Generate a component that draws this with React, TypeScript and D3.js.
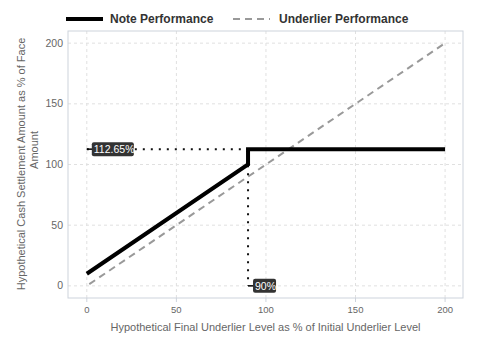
import React from "react";
import * as d3 from "d3";

const noteX = [0, 90, 90, 200];
const noteY = [10, 100, 112.65, 112.65];
const underX = [0, 200];
const underY = [0, 200];
const xTicks = [0, 50, 100, 150, 200];
const yTicks = [0, 50, 100, 150, 200];
const capLevel = 112.65;
const barrier = 90;

export default function App() {
  const W = 480, H = 360;
  const left = 68, right = 463, top = 31, bottom = 298;
  const x = d3.scaleLinear().domain([-10.5, 210]).range([left, right]);
  const y = d3.scaleLinear().domain([-10, 210]).range([bottom, top]);
  const line = d3.line<[number, number]>().x(d => x(d[0])).y(d => y(d[1]));
  const notePts: [number, number][] = noteX.map((v, i) => [v, noteY[i]]);
  const underPts: [number, number][] = underX.map((v, i) => [v, underY[i]]);
  const font = "'Liberation Sans', Arial, sans-serif";
  return (
    <svg width={W} height={H} style={{ position: "absolute", left: 0, top: 0, fontFamily: font }}>
      <rect width={W} height={H} fill="#fff" />
      {xTicks.map(t => (
        <line key={"gx" + t} x1={x(t)} x2={x(t)} y1={top} y2={bottom} stroke="#e0e0e0" strokeDasharray="3,3" />
      ))}
      {yTicks.map(t => (
        <line key={"gy" + t} x1={left} x2={right} y1={y(t)} y2={y(t)} stroke="#e0e0e0" strokeDasharray="3,3" />
      ))}
      <rect x={left} y={top} width={right - left} height={bottom - top} fill="none" stroke="#cdd3dc" strokeWidth={1} />
      {xTicks.map(t => (
        <g key={"tx" + t}>
          <line x1={x(t)} x2={x(t)} y1={bottom} y2={bottom + 4} stroke="#cdd3dc" />
          <text x={x(t)} y={bottom + 15} textAnchor="middle" fontSize={9.5} fill="#666">{t}</text>
        </g>
      ))}
      {yTicks.map(t => (
        <text key={"ty" + t} x={left - 5} y={y(t) + 3.5} textAnchor="end" fontSize={10.5} fill="#666">{t}</text>
      ))}
      <path d={line(underPts) || ""} fill="none" stroke="#999" strokeWidth={2} strokeDasharray="7,5" strokeDashoffset={-3} />
      <line x1={x(0)} x2={x(barrier)} y1={y(capLevel)} y2={y(capLevel)} stroke="#111" strokeWidth={2} strokeDasharray="2,6" />
      <line x1={x(barrier)} x2={x(barrier)} y1={y(capLevel)} y2={y(0)} stroke="#111" strokeWidth={2} strokeDasharray="2,6" />
      <path d={line(notePts) || ""} fill="none" stroke="#000" strokeWidth={4} />
      <line x1={x(0)} x2={x(0) + 6} y1={y(capLevel)} y2={y(capLevel)} stroke="#000" strokeWidth={1.5} />
      <rect x={x(0) + 5} y={y(capLevel) - 7} width={42} height={14} rx={2} fill="#333" />
      <text x={x(0) + 7} y={y(capLevel) + 4} fontSize={10.5} fill="#fff">112.65%</text>
      <line x1={x(barrier)} x2={x(barrier) + 6} y1={y(0)} y2={y(0)} stroke="#000" strokeWidth={1.5} />
      <rect x={x(barrier) + 5} y={y(0) - 7} width={23} height={14} rx={2} fill="#333" />
      <text x={x(barrier) + 7} y={y(0) + 4} fontSize={10.5} fill="#fff">90%</text>
      <line x1={66} x2={103} y1={19} y2={19} stroke="#000" strokeWidth={4} />
      <text x={110} y={23} fontSize={12} fontWeight="bold" fill="#333">Note Performance</text>
      <line x1={233} x2={270} y1={19} y2={19} stroke="#999" strokeWidth={2} strokeDasharray="7,5" />
      <text x={279} y={23} fontSize={12} fontWeight="bold" fill="#333">Underlier Performance</text>
      <text x={(left + right) / 2} y={331} textAnchor="middle" fontSize={11} fill="#666">Hypothetical Final Underlier Level as % of Initial Underlier Level</text>
      <text transform={`translate(25,164) rotate(-90)`} textAnchor="middle" fontSize={11} fill="#666">Hypothetical Cash Settlement Amount as % of Face</text>
      <text transform={`translate(38,150) rotate(-90)`} textAnchor="middle" fontSize={11} fill="#666">Amount</text>
    </svg>
  );
}
